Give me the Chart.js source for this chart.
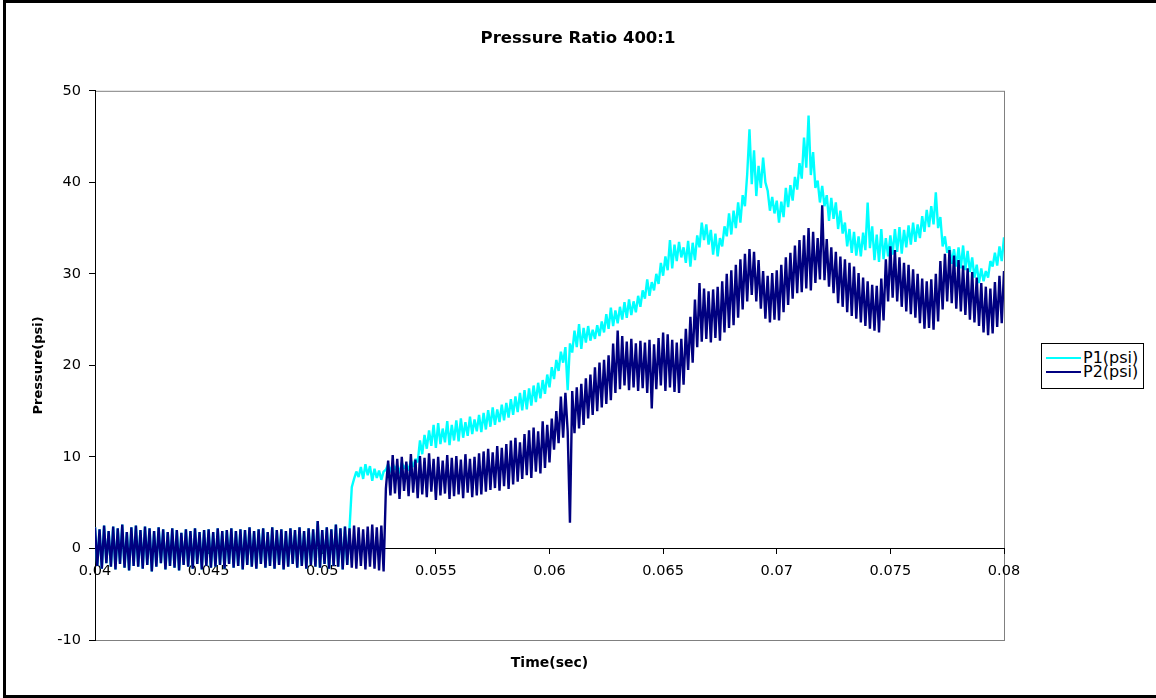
<!DOCTYPE html>
<html>
<head>
<meta charset="utf-8">
<title>Pressure Ratio 400:1</title>
<script src="https://cdn.jsdelivr.net/npm/chart.js@4.4.1/dist/chart.umd.min.js"></script>
<style>
  html, body { margin: 0; padding: 0; background: #fff; overflow: hidden; }
  #wrap { position: relative; width: 1156px; height: 698px; }
  #chart { position: absolute; left: 0; top: 0; }
  #frame {
    position: absolute; left: 3px; top: 0; width: 1200px; height: 698px;
    box-sizing: border-box; pointer-events: none;
    border-left: 3px solid #000; border-top: 3px solid #000; border-bottom: 3px solid #000;
  }
  #legend {
    position: absolute; left: 1041px; top: 343px; width: 101px; height: 44px;
    border: 1px solid #000; background: #fff;
    font-family: 'DejaVu Sans', sans-serif; font-size: 16px; color: #000;
  }
  #legend .swatch { position: absolute; left: 4px; width: 35px; height: 2px; }
  #legend .lbl { position: absolute; left: 41px; line-height: 14px; white-space: nowrap; }
</style>
</head>
<body>
<div id="wrap">
  <canvas id="chart" width="1156" height="698"></canvas>
  <div id="legend"></div>
  <div id="frame"></div>
</div>
<script>
// time axis: one sample every 0.1 ms from 0.04 s
const t0 = 0.04;
const dt = 0.0001;

const seriesNames = ['P1(psi)', 'P2(psi)'];

const xTicks = [0.04, 0.045, 0.05, 0.055, 0.06, 0.065, 0.07, 0.075, 0.08];
const xTickLabels = ['0.04', '0.045', '0.05', '0.055', '0.06', '0.065', '0.07', '0.075', '0.08'];
const yTicks = [-10, 0, 10, 20, 30, 40, 50];

// P1 (psi)
const p1 = [
  2.3, -1.9, 2.1, -2.2, 2.5, -1.6, 1.9, -2.0, 2.4, -2.3,
  2.2, -1.7, 2.6, -2.1, 1.8, -2.4, 2.3, -1.9, 2.5, -2.0,
  2.0, -2.2, 2.4, -1.8, 2.2, -2.5, 1.9, -2.0, 2.3, -1.6,
  2.1, -2.3, 1.8, -1.9, 2.2, -2.1, 2.0, -2.4, 1.7, -1.8,
  2.1, -2.0, 1.9, -2.2, 2.2, -1.7, 1.8, -2.3, 2.0, -1.9,
  2.1, -2.1, 1.8, -2.0, 2.2, -1.8, 1.9, -2.2, 2.0, -1.7,
  2.2, -2.1, 1.9, -1.9, 2.1, -2.3, 2.0, -1.8, 2.3, -2.0,
  1.9, -2.2, 2.1, -1.7, 2.2, -2.1, 1.8, -1.9, 2.3, -2.2,
  2.0, -1.8, 2.1, -2.3, 1.9, -2.0, 2.2, -1.7, 2.0, -2.1,
  2.3, -1.9, 1.9, -2.2, 2.2, -1.8, 2.1, -2.0, 3.0, -2.1,
  2.0, -1.7, 2.3, -2.2, 2.1, -1.9, 2.6, -2.0, 2.2, -2.3,
  2.4, -1.8, 2.2, 6.7, 7.6, 8.4, 7.8, 8.9, 7.6, 9.2,
  8.0, 9.0, 7.4, 8.7, 7.7, 8.5, 7.5, 8.4, 8.6, 9.2,
  8.3, 9.3, 8.6, 9.1, 8.2, 9.4, 8.7, 9.2, 8.5, 9.6,
  8.9, 9.8, 9.4, 11.8, 10.3, 12.4, 10.9, 12.9, 11.2, 13.5,
  11.0, 13.7, 11.4, 13.1, 11.6, 13.9, 11.3, 13.5, 11.8, 14.0,
  11.7, 14.2, 12.1, 13.8, 12.3, 14.4, 12.5, 14.1, 12.8, 14.6,
  12.7, 14.8, 13.0, 15.1, 13.3, 15.4, 13.5, 15.2, 13.8, 15.7,
  14.0, 15.9, 14.3, 16.3, 14.6, 16.6, 14.9, 17.0, 15.1, 17.3,
  15.2, 17.5, 15.6, 17.8, 16.0, 18.1, 16.4, 18.4, 16.9, 19.0,
  17.6, 19.8, 18.5, 20.6, 19.4, 21.5, 20.3, 22.0, 17.3, 22.4,
  21.4, 23.8, 22.0, 24.5, 21.8, 24.1, 22.5, 24.3, 22.7, 23.9,
  22.9, 24.4, 23.2, 24.8, 23.6, 25.6, 24.0, 26.3, 24.3, 26.0,
  24.6, 26.4, 25.0, 26.9, 25.2, 27.2, 25.5, 27.0, 25.8, 27.6,
  26.4, 28.2, 27.3, 29.4, 27.6, 29.1, 28.2, 30.0, 28.9, 31.2,
  29.8, 31.9, 30.4, 33.7, 30.6, 33.2, 31.4, 33.5, 31.8, 32.9,
  31.2, 33.6, 30.8, 33.4, 31.5, 34.2, 32.9, 35.6, 33.7, 35.4,
  33.2, 34.8, 32.1, 34.4, 31.9, 33.9, 33.0, 35.2, 34.1, 36.6,
  34.3, 36.9, 35.0, 37.8, 35.6, 38.6, 37.4, 40.9, 45.8, 39.8,
  43.5, 38.5, 41.8, 39.4, 42.7, 40.0, 39.1, 36.9, 38.4, 36.6,
  38.0, 35.6, 37.9, 36.2, 39.4, 37.3, 39.7, 38.0, 40.6, 39.2,
  42.1, 40.4, 44.9, 41.6, 47.3, 40.8, 43.3, 39.4, 40.2, 37.8,
  39.6, 37.4, 38.6, 35.8, 38.3, 36.0, 37.8, 34.9, 36.9, 34.4,
  35.6, 33.0, 34.9, 32.3, 34.6, 32.0, 34.1, 31.9, 34.5, 32.6,
  37.8, 32.8, 35.2, 31.5, 34.3, 31.3, 34.9, 31.6, 33.9, 31.9,
  34.2, 32.1, 34.9, 32.4, 35.1, 32.2, 34.8, 32.9, 35.3, 33.2,
  35.6, 33.5, 35.4, 33.9, 36.3, 34.6, 37.0, 35.1, 37.4, 35.4,
  38.9, 35.0, 36.2, 33.0, 34.1, 32.3, 33.0, 31.1, 32.7, 30.8,
  32.9, 30.6, 33.1, 30.4, 32.5, 30.2, 31.8, 29.6, 31.0, 29.0,
  30.6, 29.2, 30.3, 29.6, 31.4, 30.8, 32.3, 30.9, 33.0, 31.4,
  34.0
];

// P2 (psi)
const p2 = [
  2.3, -1.9, 2.1, -2.2, 2.5, -1.6, 1.9, -2.0, 2.4, -2.3,
  2.2, -1.7, 2.6, -2.1, 1.8, -2.4, 2.3, -1.9, 2.5, -2.0,
  2.0, -2.2, 2.4, -1.8, 2.2, -2.5, 1.9, -2.0, 2.3, -1.6,
  2.1, -2.3, 1.8, -1.9, 2.2, -2.1, 2.0, -2.4, 1.7, -1.8,
  2.1, -2.0, 1.9, -2.2, 2.2, -1.7, 1.8, -2.3, 2.0, -1.9,
  2.1, -2.1, 1.8, -2.0, 2.2, -1.8, 1.9, -2.2, 2.0, -1.7,
  2.2, -2.1, 1.9, -1.9, 2.1, -2.3, 2.0, -1.8, 2.3, -2.0,
  1.9, -2.2, 2.1, -1.7, 2.2, -2.1, 1.8, -1.9, 2.3, -2.2,
  2.0, -1.8, 2.1, -2.3, 1.9, -2.0, 2.2, -1.7, 2.0, -2.1,
  2.3, -1.9, 1.9, -2.2, 2.2, -1.8, 2.1, -2.0, 3.0, -2.1,
  2.0, -1.7, 2.3, -2.2, 2.1, -1.9, 2.6, -2.0, 2.2, -2.3,
  2.4, -1.8, 2.2, -2.1, 2.5, -2.2, 2.3, -1.9, 2.1, -2.3,
  2.4, -2.0, 2.6, -2.2, 2.3, -2.4, 2.5, -2.5, 6.5, 9.6,
  5.8, 10.2, 6.0, 9.8, 5.4, 10.0, 6.3, 9.5, 5.7, 10.3,
  6.1, 9.7, 5.5, 10.1, 5.9, 9.9, 5.6, 10.4, 6.2, 9.8,
  5.3, 10.0, 5.8, 9.6, 6.0, 10.2, 5.4, 9.9, 5.7, 10.1,
  5.9, 9.7, 5.5, 10.3, 6.1, 9.8, 5.6, 10.0, 5.8, 10.4,
  5.9, 10.6, 6.2, 10.9, 6.4, 10.5, 6.6, 11.2, 6.3, 11.0,
  6.8, 11.4, 6.5, 11.8, 7.0, 12.1, 7.3, 11.6, 7.6, 12.5,
  8.0, 12.9, 7.7, 13.2, 8.4, 12.8, 8.2, 13.9, 8.8, 13.5,
  9.4, 14.2, 10.8, 15.0, 11.5, 16.6, 12.1, 17.0, 12.8, 2.8,
  17.2, 12.6, 17.6, 13.1, 18.0, 13.5, 18.6, 14.2, 19.0, 14.6,
  19.8, 15.0, 20.3, 15.4, 20.6, 15.8, 21.1, 16.2, 22.4, 17.0,
  23.8, 17.4, 23.2, 17.8, 22.6, 17.3, 22.9, 17.6, 22.4, 17.2,
  22.7, 17.5, 22.5, 17.0, 22.8, 15.3, 22.3, 17.4, 23.0, 17.8,
  23.6, 17.2, 23.4, 17.6, 22.8, 17.1, 22.5, 17.0, 22.9, 17.9,
  24.0, 19.5, 25.3, 20.3, 27.2, 22.0, 29.0, 22.6, 28.4, 22.9,
  28.1, 22.5, 28.3, 23.0, 28.6, 22.7, 29.2, 23.6, 30.0, 24.1,
  30.4, 24.4, 31.0, 25.2, 31.6, 26.1, 32.2, 27.0, 32.7, 27.7,
  32.4, 27.0, 31.5, 26.2, 30.3, 25.1, 29.8, 24.7, 30.1, 25.0,
  30.4, 24.9, 31.0, 25.8, 31.8, 26.6, 32.3, 27.3, 33.1, 27.9,
  33.7, 28.0, 34.2, 28.4, 35.0, 28.2, 34.6, 29.0, 33.9, 29.4,
  37.5, 29.3, 33.8, 28.6, 32.9, 27.9, 32.4, 26.8, 31.9, 26.4,
  31.6, 25.8, 31.2, 25.4, 30.8, 25.1, 30.1, 24.7, 29.6, 24.3,
  29.2, 24.0, 28.8, 23.8, 28.7, 23.6, 29.5, 24.9, 31.6, 27.0,
  33.0, 27.4, 32.6, 27.0, 31.8, 26.4, 31.2, 25.9, 31.0, 25.6,
  30.5, 25.2, 30.0, 24.6, 29.5, 24.0, 29.2, 24.1, 29.4, 23.9,
  30.0, 24.8, 31.4, 26.1, 32.2, 27.0, 32.6, 26.8, 32.0, 26.2,
  31.5, 25.9, 30.9, 25.5, 30.6, 25.0, 30.2, 24.7, 29.6, 24.3,
  29.0, 23.6, 28.6, 23.3, 28.4, 23.5, 29.1, 24.2, 29.8, 24.6,
  30.3
];

function toPoints(values) {
    return values.map((v, i) => ({ x: t0 + i * dt, y: v }));
}

// legend box on the right
const lineColors = ['#00ffff', '#000080'];
const legend = document.getElementById('legend');
seriesNames.forEach((name, i) => {
    legend.innerHTML += `
        <div class="swatch" style="top:${13 + i * 14}px;background:${lineColors[i]}"></div>
        <div class="lbl" style="top:${7 + i * 14}px">${name}</div>`;
});

// grey border of the plot area
const plotFrame = {
    id: 'plotFrame',
    beforeDraw(chart) {
        const { ctx, chartArea: a } = chart;
        ctx.save();
        ctx.strokeStyle = '#808080';
        ctx.lineWidth = 1;
        ctx.strokeRect(a.left + 0.5, a.top + 0.5, a.right - a.left, a.bottom - a.top);
        ctx.restore();
    }
};

Chart.defaults.font.family = "'DejaVu Sans', sans-serif";
Chart.defaults.color = '#000';

new Chart(document.getElementById('chart'), {
    type: 'line',
    data: {
        datasets: [
            { label: seriesNames[0], data: toPoints(p1), borderColor: lineColors[0], borderWidth: 2.4, borderJoinStyle: 'bevel', pointRadius: 0, fill: false, order: 1 },
            { label: seriesNames[1], data: toPoints(p2), borderColor: lineColors[1], borderWidth: 2.4, borderJoinStyle: 'bevel', pointRadius: 0, fill: false, order: 0 }
        ]
    },
    options: {
        responsive: false,
        animation: false,
        events: [],
        layout: { padding: { left: 0, right: 0, top: 0, bottom: 22 } },
        plugins: {
            legend: { display: false },
            tooltip: { enabled: false },
            title: {
                display: true,
                text: 'Pressure Ratio 400:1',
                color: '#000',
                font: { size: 16.5, weight: 'bold' },
                padding: { top: 29, bottom: 42 }
            }
        },
        scales: {
            x: {
                type: 'linear',
                position: { y: 0 },
                min: 0.04, max: 0.08,
                afterBuildTicks: s => { s.ticks = xTicks.map(v => ({ value: v })); },
                ticks: { callback: (v, i) => xTickLabels[i], padding: 9, font: { size: 14.5 }, maxRotation: 0, autoSkip: false },
                grid: { drawOnChartArea: false, tickLength: 5, color: '#000' },
                border: { color: '#000' }
            },
            x2: {
                type: 'linear',
                position: 'bottom',
                min: 0.04, max: 0.08,
                grid: { display: false },
                border: { display: false },
                ticks: { display: false },
                title: { display: true, text: 'Time(sec)', font: { size: 14, weight: 'bold' }, padding: { top: 0, bottom: 4 } },
                afterFit: s => { s.height = 36; }
            },
            y: {
                type: 'linear',
                position: 'left',
                min: -10, max: 50,
                afterBuildTicks: s => { s.ticks = yTicks.map(v => ({ value: v })); },
                ticks: { padding: 8, font: { size: 14.5 } },
                grid: { drawOnChartArea: false, tickLength: 6, color: '#000' },
                border: { color: '#000' },
                title: { display: true, text: 'Pressure(psi)', font: { size: 13, weight: 'bold' }, padding: { top: 31, bottom: 0 } },
                afterFit: s => { s.width = 95; }
            },
            y2: {
                type: 'linear',
                position: 'right',
                grid: { display: false },
                border: { display: false },
                ticks: { display: false },
                afterFit: s => { s.width = 152; }
            }
        }
    },
    plugins: [plotFrame]
});
</script>
</body>
</html>
